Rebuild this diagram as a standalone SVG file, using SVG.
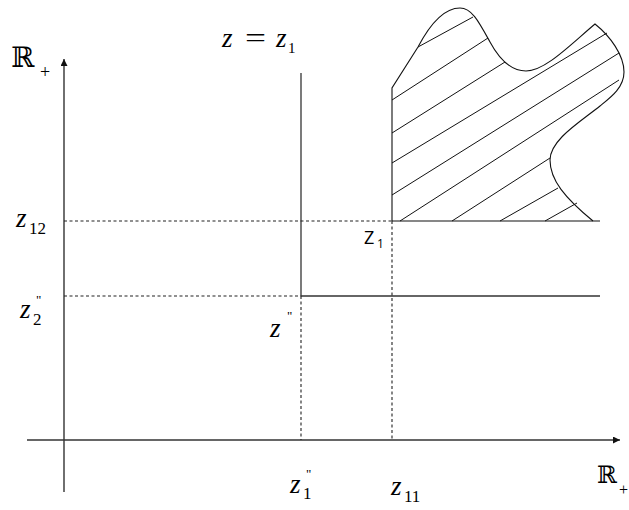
<svg xmlns="http://www.w3.org/2000/svg" width="629" height="510" viewBox="0 0 629 510">
  <style>
    .axis { stroke: #333; stroke-width: 1.4; fill: none; }
    .solid { stroke: #333; stroke-width: 1.3; fill: none; }
    .dash { stroke: #222; stroke-width: 1.1; stroke-dasharray: 3 2.5; fill: none; }
    .region { stroke: #111; stroke-width: 1.1; fill: none; }
    .hatch { stroke: #111; stroke-width: 1; fill: none; }
    .m { font-family: "Liberation Serif", "DejaVu Serif", serif; font-style: italic; fill: #000; }
    .up { font-family: "Liberation Serif", "DejaVu Serif", serif; fill: #000; }
    .bb { font-family: "DejaVu Serif", "Liberation Serif", serif; fill: #000; }
    .s { font-family: "Open Sans", "Liberation Sans", "DejaVu Sans", sans-serif; fill: #000; }
  </style>
  <defs>
    <marker id="arr" markerUnits="userSpaceOnUse" markerWidth="8" markerHeight="7" refX="7" refY="3.5" orient="auto">
      <path d="M0,0 L7,3.5 L0,7 z" fill="#111"/>
    </marker>
  </defs>

  <g id="axes">
    <line class="axis" x1="64" y1="492" x2="64" y2="59" marker-end="url(#arr)"/>
    <line class="axis" x1="27" y1="440" x2="620" y2="440" marker-end="url(#arr)"/>
  </g>

  <g id="guides">
    <line class="solid" x1="301" y1="73" x2="301" y2="296"/>
    <line class="solid" x1="301" y1="296" x2="600" y2="296"/>
    <line class="dash" x1="64" y1="221" x2="392" y2="221"/>
    <line class="dash" x1="64" y1="296" x2="301" y2="296"/>
    <line class="dash" x1="301" y1="296" x2="301" y2="440"/>
    <line class="dash" x1="392" y1="221" x2="392" y2="440"/>
  </g>

  <g id="region">
    <path class="region" d="M392,221 L392,88 L418,47 C428,28 442,8 460,8 C472,8 479,22 490,42 C497,55 508,71 526,71 C545,71 570,45 595,24 C610,36 624,55 624,72 C624,88 610,98 600,106 C580,122 550,140 550,160 C550,180 565,198 593,221"/>
    <line class="region" x1="392" y1="221" x2="600" y2="221"/>
    <g id="hatching">
      <line class="hatch" x1="418" y1="47" x2="473" y2="17"/>
      <line class="hatch" x1="392" y1="100" x2="488" y2="38"/>
      <line class="hatch" x1="392" y1="133" x2="505" y2="62"/>
      <line class="hatch" x1="392" y1="163" x2="607" y2="33"/>
      <line class="hatch" x1="392" y1="195" x2="619" y2="53"/>
      <line class="hatch" x1="400" y1="221" x2="619" y2="80"/>
      <line class="hatch" x1="452" y1="221" x2="550" y2="158"/>
      <line class="hatch" x1="500" y1="221" x2="558" y2="188"/>
      <line class="hatch" x1="545" y1="221" x2="577" y2="203"/>
    </g>
  </g>

  <g id="labels">
    <text class="bb" x="11" y="67" font-size="28">ℝ</text>
    <text class="up" x="40" y="78" font-size="18">+</text>

    <text class="m" x="222" y="47" font-size="27">z</text>
    <text class="up" x="245" y="47" font-size="27" textLength="21" lengthAdjust="spacingAndGlyphs">=</text>
    <text class="m" x="276" y="47" font-size="27">z</text>
    <text class="up" x="288" y="53" font-size="15">1</text>

    <text class="m" x="16" y="227" font-size="27">z</text>
    <text class="up" x="29" y="234" font-size="17">12</text>

    <text class="m" x="20" y="318" font-size="27">z</text>
    <text class="up" x="33" y="325" font-size="17">2</text>
    <text class="up" x="36" y="304" font-size="13">"</text>

    <text class="s" x="364" y="244" font-size="18">Z</text>
    <text class="s" x="377" y="248" font-size="12">1</text>

    <text class="m" x="270" y="337" font-size="27">z</text>
    <text class="up" x="287" y="320" font-size="13">"</text>

    <text class="m" x="290" y="493" font-size="27">z</text>
    <text class="up" x="303" y="499" font-size="17">1</text>
    <text class="up" x="306" y="478" font-size="13">"</text>

    <text class="m" x="391" y="495" font-size="27">z</text>
    <text class="up" x="404" y="502" font-size="17">11</text>

    <text class="bb" x="597" y="483" font-size="24">ℝ</text>
    <text class="up" x="619" y="495" font-size="16">+</text>
  </g>
</svg>
